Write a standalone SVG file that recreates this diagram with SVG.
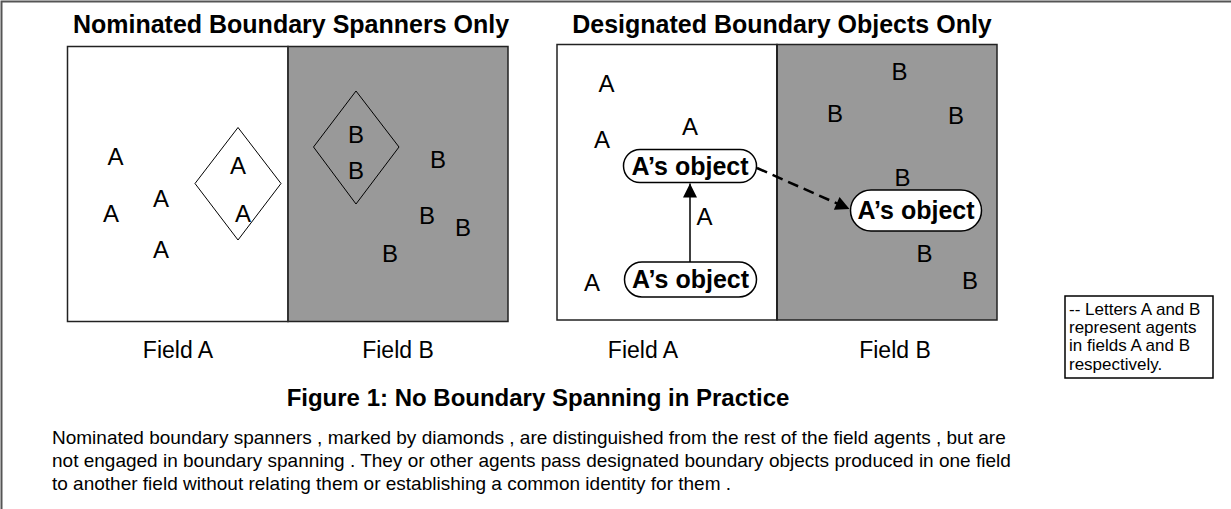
<svg xmlns="http://www.w3.org/2000/svg" width="1231" height="509" viewBox="0 0 1231 509">
  <style>
    text { font-family: "Liberation Sans", Arial, sans-serif; fill: #000; }
    .title { font-size: 25px; font-weight: bold; text-anchor: middle; }
    .agent { font-size: 24px; text-anchor: middle; }
    .field { font-size: 23px; text-anchor: middle; }
    .obj { font-size: 25px; font-weight: bold; text-anchor: middle; }
    .caption { font-size: 24px; font-weight: bold; text-anchor: middle; }
    .para { font-size: 19px; }
    .legend { font-size: 17px; }
    .white { fill: #fff; stroke: #222; stroke-width: 1.5; }
    .grey { fill: #999; stroke: #222; stroke-width: 1.5; }
    .diamond { fill: none; stroke: #000; stroke-width: 1; }
    .pill { fill: #fff; stroke: #000; stroke-width: 1.5; }
    .link { fill: none; stroke: #000; }
  </style>
  <defs>
    <marker id="head" viewBox="0 0 10 10" refX="10" refY="5" markerUnits="userSpaceOnUse" markerWidth="18" markerHeight="14" orient="auto">
      <path d="M0,0 L10,5 L0,10 Z" fill="#000"/>
    </marker>
  </defs>

  <rect x="0" y="0" width="1231" height="509" fill="#fff"/>
  <!-- page frame -->
  <path d="M1.5,509 V1.5 H1231" fill="none" stroke="#555" stroke-width="2"/>

  <!-- left scene: nominated spanners -->
  <g id="panel-spanners">
    <text class="title" x="291" y="33">Nominated Boundary Spanners Only</text>
    <rect id="spanners-field-a" class="white" x="67.5" y="46.5" width="220.5" height="275"/>
    <rect id="spanners-field-b" class="grey" x="288" y="46.5" width="220" height="275"/>
    <line x1="288" y1="46.5" x2="288" y2="321.5" stroke="#333" stroke-width="2"/>
  </g>
  <g id="agents-spanners-a">
    <text class="agent" x="115.5" y="165">A</text>
    <text class="agent" x="111" y="222">A</text>
    <text class="agent" x="161" y="207">A</text>
    <text class="agent" x="161" y="258">A</text>
  </g>
  <g id="spanner-a">
    <polygon class="diamond" points="238,127.5 281,183.5 238,240 195,183.5"/>
    <text class="agent" x="238" y="174">A</text>
    <text class="agent" x="243" y="222">A</text>
  </g>
  <g id="spanner-b">
    <polygon class="diamond" points="356,91 399,147 356,204 313.5,147"/>
    <text class="agent" x="356" y="143">B</text>
    <text class="agent" x="356" y="179">B</text>
  </g>
  <g id="agents-spanners-b">
    <text class="agent" x="438" y="168">B</text>
    <text class="agent" x="427" y="224">B</text>
    <text class="agent" x="463" y="236">B</text>
    <text class="agent" x="390" y="262">B</text>
  </g>

  <!-- right scene: designated objects -->
  <g id="panel-objects">
    <text class="title" x="782" y="33">Designated Boundary Objects Only</text>
    <rect id="objects-field-a" class="white" x="557" y="44.5" width="220" height="275.5"/>
    <rect id="objects-field-b" class="grey" x="777" y="44.5" width="220" height="275.5"/>
    <line x1="777" y1="44.5" x2="777" y2="320" stroke="#222" stroke-width="2"/>
  </g>
  <g id="agents-objects-a">
    <text class="agent" x="606.5" y="92">A</text>
    <text class="agent" x="602" y="148">A</text>
    <text class="agent" x="690" y="135">A</text>
    <text class="agent" x="704.5" y="225">A</text>
    <text class="agent" x="592" y="291">A</text>
  </g>
  <g id="agents-objects-b">
    <text class="agent" x="899.5" y="80">B</text>
    <text class="agent" x="835" y="122">B</text>
    <text class="agent" x="956" y="124">B</text>
    <text class="agent" x="902.5" y="186">B</text>
    <text class="agent" x="924.5" y="262">B</text>
    <text class="agent" x="970" y="288.5">B</text>
  </g>

  <g id="connectors">
    <line class="link" x1="690" y1="262" x2="690" y2="183.5" stroke-width="1.5" marker-end="url(#head)"/>
    <line class="link" x1="757" y1="168" x2="849.5" y2="209" stroke-width="2.5" stroke-dasharray="11,6" marker-end="url(#head)"/>
  </g>

  <g id="object-a-made">
    <rect class="pill" x="624.5" y="262" width="132" height="35" rx="17.5"/>
    <text class="obj" x="690.5" y="287.5">A’s object</text>
  </g>
  <g id="object-a-held">
    <rect class="pill" x="623.5" y="149.5" width="133" height="33" rx="16.5"/>
    <text class="obj" x="690" y="175">A’s object</text>
  </g>
  <g id="object-a-passed">
    <rect class="pill" x="850.5" y="190" width="131" height="41" rx="20.5"/>
    <text class="obj" x="916" y="218.5">A’s object</text>
  </g>

  <!-- field labels -->
  <g id="field-labels">
    <text class="field" x="178" y="358">Field A</text>
    <text class="field" x="398" y="358">Field B</text>
    <text class="field" x="643" y="358">Field A</text>
    <text class="field" x="895" y="358">Field B</text>
  </g>

  <g id="legend">
    <rect x="1065" y="296" width="148" height="82" fill="#fff" stroke="#000" stroke-width="1.5"/>
    <text class="legend" x="1069" y="315">-- Letters A and B</text>
    <text class="legend" x="1069" y="333">represent agents</text>
    <text class="legend" x="1069" y="351">in fields A and B</text>
    <text class="legend" x="1069" y="370">respectively.</text>
  </g>

  <g id="caption">
    <text class="caption" x="538" y="406">Figure 1: No Boundary Spanning in Practice</text>
    <text class="para" x="52" y="444">Nominated boundary spanners , marked by diamonds , are distinguished from the rest of the field agents , but are</text>
    <text class="para" x="52" y="467">not engaged in boundary spanning . They or other agents pass designated boundary objects produced in one field</text>
    <text class="para" x="52" y="490">to another field without relating them or establishing a common identity for them .</text>
  </g>
</svg>
